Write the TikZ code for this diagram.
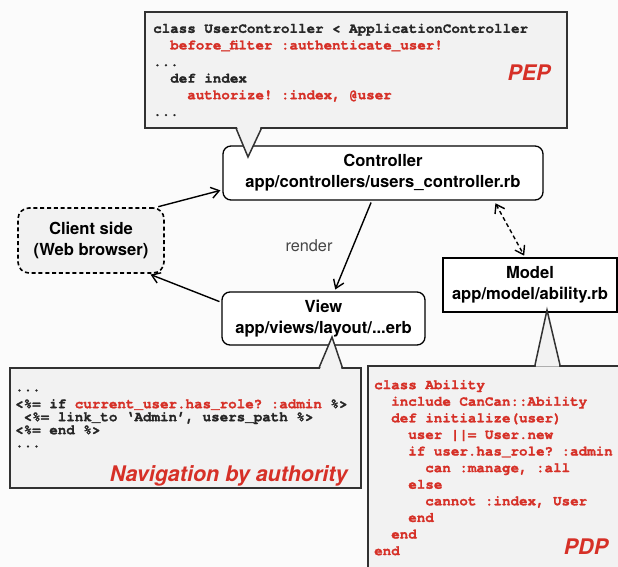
\documentclass[tikz,border=0pt]{standalone}
\usepackage{fontspec}
\setmainfont{TeX Gyre Heros}
\setmonofont{texgyrecursor}[Extension=.otf, UprightFont=*-regular, BoldFont=*-bold, ItalicFont=*-italic, BoldItalicFont=*-bolditalic, BoldFeatures={FakeBold=1.4}]
\usepackage{xcolor}
\usepackage{tikz}
\usetikzlibrary{positioning}
\usetikzlibrary{arrows.meta}
\definecolor{codered}{RGB}{214,48,39}
\definecolor{frame}{RGB}{50,50,50}
\definecolor{labelgray}{RGB}{70,70,70}
\newcommand{\boxfont}{\fontsize{16.6}{21}\selectfont\bfseries}
\newcommand{\codefont}{\ttfamily\bfseries\fontsize{14.2}{16.6}\selectfont}
\newcommand{\navfont}{\ttfamily\bfseries\fontsize{14.2}{13}\selectfont}
\newcommand{\tagfont}{\fontsize{21.5}{24}\selectfont\bfseries\itshape}
\newcommand{\redcode}[1]{\textcolor{codered}{#1}}
\tikzset{
    box/.style={ % Plain MVC boxes
        draw, line width=1.3pt,
        fill=white,
        align=center,
        inner sep=0pt,
        font=\boxfont
    },
    roundbox/.style={box, rounded corners=8pt},
    clientbox/.style={box, rounded corners=11pt, fill=gray!10, dash pattern=on 4pt off 2.8pt, line width=1.6pt},
    calloutbox/.style={draw=frame, line width=1.5pt, fill=gray!10, inner sep=0pt},
    pointer/.style={draw=frame, line width=1.5pt, line join=miter},
    code/.style={anchor=north west, inner sep=0pt, align=left, font=\codefont, text=black!85},
    tag/.style={inner sep=0pt, font=\tagfont, text=codered},
    every edge/.style={ % Connectors between the boxes
        draw,
        ->,>={Straight Barb[length=8pt,width=11pt]},
        line width=1.4pt,
        shorten <=2pt, shorten >=2pt
    }
}

\begin{document}
\begin{tikzpicture}[x=1pt, y=-1pt]
    \useasboundingbox (0,0) rectangle (618,567);
    \clip (0,0) rectangle (618,567);
    \fill[gray!3] (0,0) rectangle (618,567);

    \node[roundbox, minimum width=320pt, minimum height=54pt] (ctrl) at (383,173) {Controller\\app/controllers/users\_controller.rb};
    \node[clientbox, minimum width=146pt, minimum height=65pt] (client) at (91,240.5) {Client side\\(Web browser)};
    \node[roundbox, minimum width=203pt, minimum height=53pt] (view) at (323.5,318.5) {View\\app/views/layout/...erb};
    \node[box, minimum width=174pt, minimum height=54pt] (model) at (530,285) {Model\\app/model/ability.rb};

    \draw (client.27) edge (ctrl.186);
    \draw (ctrl.248) edge node[left=20pt, inner sep=0pt, font=\fontsize{16.3}{18}\selectfont, text=labelgray] {render} (view.68);
    \draw (view.171) edge (client.330);
    \draw (ctrl.346) edge[<->, dash pattern=on 4pt off 3pt, shorten <=3pt] (model.100);

    % PEP callout
    \node[calloutbox, minimum width=422pt, minimum height=116pt] (pep) at (356,70) {};
    \coordinate (peptip) at (248,157);
    \fill[gray!10] ([xshift=92.8pt, yshift=1.6pt]pep.south west) -- (peptip) -- ([xshift=116.2pt, yshift=1.6pt]pep.south west) -- cycle;
    \draw[pointer] ([xshift=92pt]pep.south west) -- (peptip) -- ([xshift=117pt]pep.south west);
    \node[code] (pepcode) at (153,21) {\strut class UserController < ApplicationController\\
        ~~\redcode{before\_filter :authenticate\_user!}\\
        ...\\
        ~~def index\\
        ~~~~\redcode{authorize! :index, @user}\\
        ...};
    \node[tag, left=17pt of pep.east, yshift=-3pt] (peptag) {PEP};

    % navigation callout
    \node[calloutbox, minimum width=351pt, minimum height=120pt] (nav) at (185.5,428) {};
    \coordinate (navtip) at (332,337);
    \fill[gray!10] ([xshift=310.8pt, yshift=-1.6pt]nav.north west) -- (navtip) -- ([xshift=332.2pt, yshift=-1.6pt]nav.north west) -- cycle;
    \draw[pointer] ([xshift=310pt]nav.north west) -- (navtip) -- ([xshift=333pt]nav.north west);
    \node[code, font=\navfont] (navcode) at (15,381.9) {\strut ...\\[4pt]
        <\%= if \redcode{current\_user.has\_role? :admin} \%>\\
        ~<\%= link\_to ‘Admin’, users\_path \%>\\
        <\%= end \%>\\
        ...};
    \node[tag, above left=2.5pt and 14pt of nav.south east] (navtag) {Navigation by authority};

    % PDP callout
    \node[calloutbox, minimum width=280pt, minimum height=240pt, anchor=north west] (pdp) at (367,365) {};
    \coordinate (pdptip) at (547,310);
    \fill[gray!10] ([xshift=168.8pt, yshift=-1.6pt]pdp.north west) -- (pdptip) -- ([xshift=192.2pt, yshift=-1.6pt]pdp.north west) -- cycle;
    \draw[pointer] ([xshift=168pt]pdp.north west) -- (pdptip) -- ([xshift=193pt]pdp.north west);
    \node[code, text=codered] (pdpcode) at (374,377.3) {\strut class Ability\\
        ~~include CanCan::Ability\\
        ~~def initialize(user)\\
        ~~~~user ||= User.new\\
        ~~~~if user.has\_role? :admin\\
        ~~~~~~can :manage, :all\\
        ~~~~else\\
        ~~~~~~cannot :index, User\\
        ~~~~end\\
        ~~end\\
        end};
    \node[tag] (pdptag) at (586,547) {PDP};
\end{tikzpicture}
\end{document}
